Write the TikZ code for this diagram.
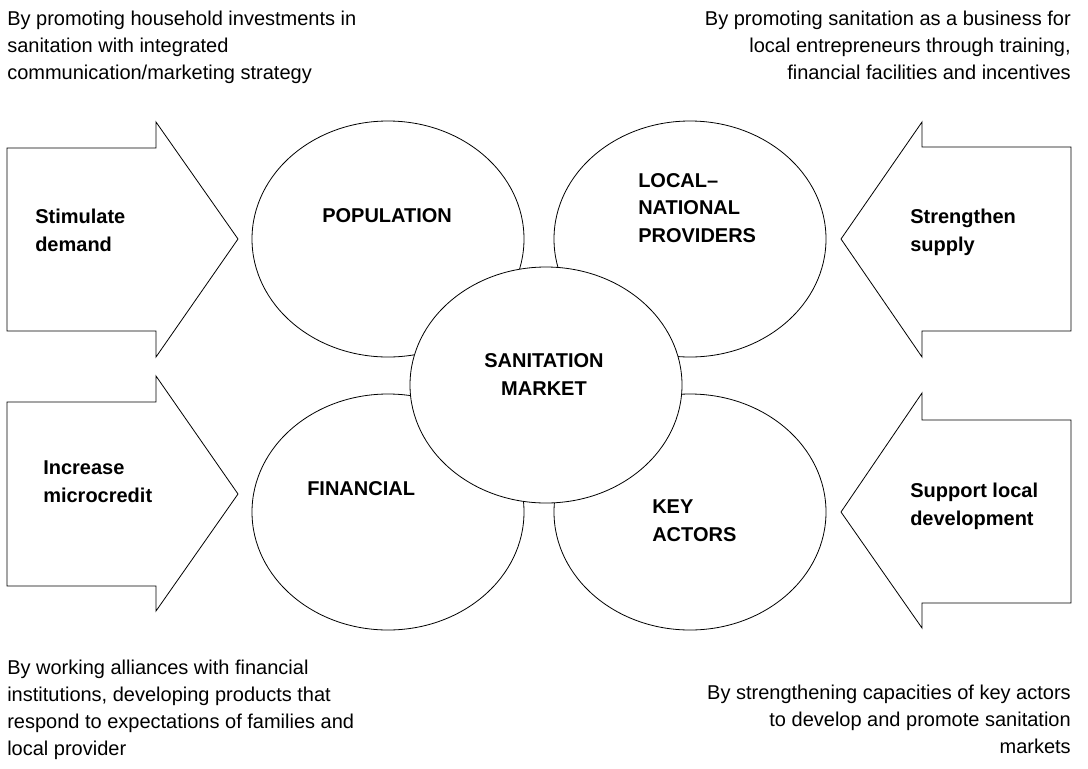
\documentclass[tikz,border=0pt]{standalone}
\usepackage{fontspec}
\setmainfont{Liberation Sans}
\usetikzlibrary{shapes.geometric}
\begin{document}
\begin{tikzpicture}[x=0.75pt,y=-0.75pt,
  blob/.style={ellipse, draw, fill=white, line width=0.6pt,
    minimum width=204pt, minimum height=177pt, inner sep=0pt},
  bigarrow/.style={draw, fill=white, line width=0.6pt, line join=miter},
  note/.style={font=\fontsize{15}{20.25}\selectfont, inner sep=0pt,
    anchor=base west, align=left},
  noteR/.style={note, anchor=base east, align=right},
  lbl/.style={font=\bfseries\fontsize{15}{20.6}\selectfont, inner sep=0pt,
    anchor=base west, align=left},
  lblC/.style={lbl, anchor=base, align=center},
]
\useasboundingbox (0,0) rectangle (1088,768);
\fill[white] (0,0) rectangle (1088,768);

% block arrows pointing towards the market
\draw[bigarrow] (7,148) -- (156,148) -- (156,122) -- (238,239) -- (156,357)
  -- (156,331) -- (7,331) -- cycle;
\draw[bigarrow] (7,402) -- (156,402) -- (156,376) -- (238,494) -- (156,611)
  -- (156,586) -- (7,586) -- cycle;
\draw[bigarrow] (1071,147) -- (922,147) -- (922,122) -- (841,239) -- (922,357)
  -- (922,331) -- (1071,331) -- cycle;
\draw[bigarrow] (1071,420) -- (922,420) -- (922,393) -- (841,512) -- (922,628)
  -- (922,603) -- (1071,603) -- cycle;

% arrow labels (anchored at the baseline of their last line)
\node[lbl] (demand) at (35,251) {Stimulate\\demand};
\node[lbl] (credit) at (43,502) {Increase\\microcredit};
\node[lbl] (supply) at (910,251) {Strengthen\\supply};
\node[lbl] (develop) at (910,525) {Support local\\development};

% the four actors and the market in the middle
\node[blob] (pop) at (388,239) {};
\node[blob] (prov) at (690,239) {};
\node[blob] (fin) at (388,512) {};
\node[blob] (key) at (690,512) {};
\node[blob] (market) at (546,385) {};

\node[lbl] (popt) at (322,222) {POPULATION};
\node[lbl] (provt) at (638,242) {LOCAL--\\NATIONAL\\PROVIDERS};
\node[lblC] (markett) at (544,395) {SANITATION\\MARKET};
\node[lbl] (fint) at (307,495) {FINANCIAL};
\node[lbl] (keyt) at (652,541) {KEY\\ACTORS};

% explanatory notes
\node[note] (tl) at (7,79) {By promoting household investments in\\sanitation with integrated\\communication/marketing strategy};
\node[noteR] (tr) at (1071,79) {By promoting sanitation as a business for\\local entrepreneurs through training,\\financial facilities and incentives};
\node[note] (bl) at (7,755) {By working alliances with financial\\institutions, developing products that\\respond to expectations of families and\\local provider};
\node[noteR] (br) at (1071,753) {By strengthening capacities of key actors\\to develop and promote sanitation\\markets};
\end{tikzpicture}
\end{document}
